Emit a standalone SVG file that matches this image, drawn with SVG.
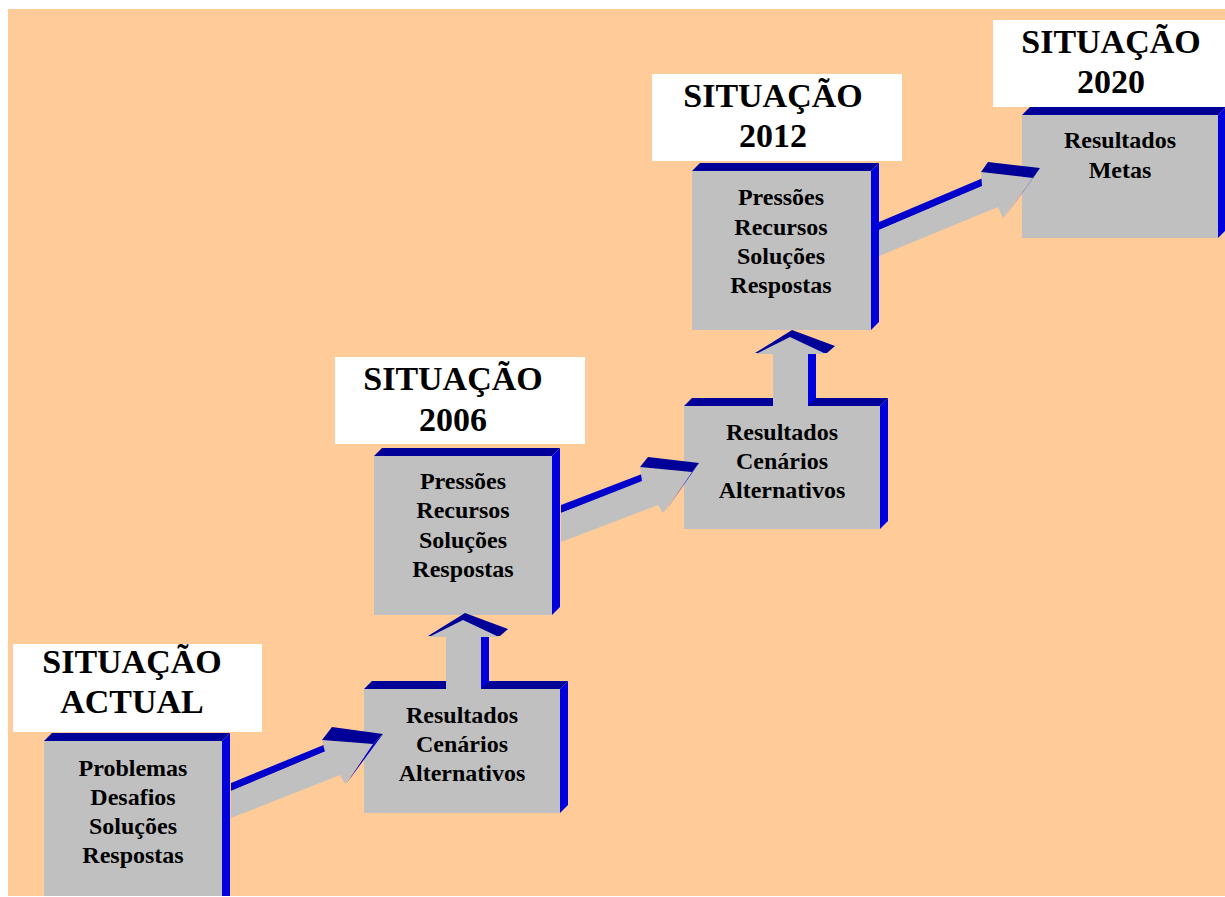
<svg xmlns="http://www.w3.org/2000/svg" width="1225" height="897" viewBox="0 0 1225 897">
<style>
.front{fill:#C0C0C0}
.top{fill:#000099}
.side{fill:#0000DD}
.lbl{fill:#FFFFFF}
.t{font-family:"Liberation Serif","Times New Roman",serif;font-weight:bold;fill:#000;text-anchor:middle}
.title{font-size:34px}
.body{font-size:24px}
.ag{fill:#C0C0C0}
.ab{fill:#0000CC}
.ah{fill:#000099}
</style>
<rect x="0" y="0" width="1225" height="897" fill="#FFFFFF"/>
<rect x="8" y="9" width="1217" height="887" fill="#FFCC99"/>

<g id="label-actual">
<rect class="lbl" x="13" y="644" width="249" height="88"/>
<text class="t title" x="132" y="673">SITUAÇÃO</text>
<text class="t title" x="132" y="713">ACTUAL</text>
</g>
<g id="label-2006">
<rect class="lbl" x="335" y="357" width="250" height="87"/>
<text class="t title" x="453" y="390">SITUAÇÃO</text>
<text class="t title" x="453" y="431">2006</text>
</g>
<g id="label-2012">
<rect class="lbl" x="652" y="74" width="250" height="87"/>
<text class="t title" x="773" y="107">SITUAÇÃO</text>
<text class="t title" x="773" y="147">2012</text>
</g>
<g id="label-2020">
<rect class="lbl" x="993" y="20" width="232" height="87"/>
<text class="t title" x="1111" y="53">SITUAÇÃO</text>
<text class="t title" x="1111" y="93">2020</text>
</g>

<g id="box-actual">
<rect class="front" x="44" y="741" width="178" height="155"/>
<polygon class="top" points="44,741 52,733 230,733 222,741"/>
<polygon class="side" points="222,741 230,733 230,896 222,896"/>
<text class="t body" x="133" y="776">Problemas</text>
<text class="t body" x="133" y="805">Desafios</text>
<text class="t body" x="133" y="834">Soluções</text>
<text class="t body" x="133" y="863">Respostas</text>
</g>
<g id="box-resultados-1">
<rect class="front" x="364" y="689" width="196" height="124"/>
<polygon class="top" points="364,689 372,681 568,681 560,689"/>
<polygon class="side" points="560,689 568,681 568,805 560,813"/>
<text class="t body" x="462" y="723">Resultados</text>
<text class="t body" x="462" y="752">Cenários</text>
<text class="t body" x="462" y="781">Alternativos</text>
</g>
<g id="box-2006">
<rect class="front" x="374" y="456" width="178" height="159"/>
<polygon class="top" points="374,456 382,448 560,448 552,456"/>
<polygon class="side" points="552,456 560,448 560,607 552,615"/>
<text class="t body" x="463" y="489">Pressões</text>
<text class="t body" x="463" y="518">Recursos</text>
<text class="t body" x="463" y="548">Soluções</text>
<text class="t body" x="463" y="577">Respostas</text>
</g>
<g id="box-resultados-2">
<rect class="front" x="684" y="406" width="196" height="123"/>
<polygon class="top" points="684,406 692,398 888,398 880,406"/>
<polygon class="side" points="880,406 888,398 888,521 880,529"/>
<text class="t body" x="782" y="440">Resultados</text>
<text class="t body" x="782" y="469">Cenários</text>
<text class="t body" x="782" y="498">Alternativos</text>
</g>
<g id="box-2012">
<rect class="front" x="692" y="171" width="179" height="159"/>
<polygon class="top" points="692,171 700,163 879,163 871,171"/>
<polygon class="side" points="871,171 879,163 879,322 871,330"/>
<text class="t body" x="781" y="205">Pressões</text>
<text class="t body" x="781" y="235">Recursos</text>
<text class="t body" x="781" y="264">Soluções</text>
<text class="t body" x="781" y="293">Respostas</text>
</g>
<g id="box-2020">
<rect class="front" x="1022" y="115" width="196" height="123"/>
<polygon class="top" points="1022,115 1030,107 1226,107 1218,115"/>
<polygon class="side" points="1218,115 1226,107 1226,230 1218,238"/>
<text class="t body" x="1120" y="148">Resultados</text>
<text class="t body" x="1120" y="178">Metas</text>
</g>

<g id="connectors">
<g id="arrow-1">
<polygon class="ab" points="231,783 326,744 326,751 231,791"/>
<polygon class="ag" points="231,791 325,752 322,740 373,744 345,784 340,775 231,818"/>
<polygon class="ah" points="322,740 332,727 383,734 373,744"/>
<polygon class="ab" points="373,744 383,734 346,784"/>
</g>
<g id="arrow-2">
<polygon class="ag" points="446,636 481,636 481,689 446,689"/>
<polygon class="side" points="481,637 489,637 489,681 481,689"/>
<polygon class="ah" points="428,636 465,613 508,629 500,636"/>
<polygon class="ag" points="429,637 463,620 499,637"/>
</g>
<g id="arrow-3">
<polygon class="ab" points="561,505 642,474 642,482 561,513"/>
<polygon class="ag" points="561,513 642,481 640,467 692,472 663,513 658,505 561,542"/>
<polygon class="ah" points="640,467 648,457 699,463 692,472"/>
<polygon class="ab" points="692,472 699,463 664,513"/>
</g>
<g id="arrow-4" transform="translate(327,-283)">
<polygon class="ag" points="446,636 481,636 481,689 446,689"/>
<polygon class="side" points="481,637 489,637 489,681 481,689"/>
<polygon class="ah" points="428,636 465,613 508,629 500,636"/>
<polygon class="ag" points="429,637 463,620 499,637"/>
</g>
<g id="arrow-5">
<polygon class="ab" points="879,222 983,178 983,186 879,230"/>
<polygon class="ag" points="879,230 982,186 981,172 1033,178 1003,218 998,207 879,256"/>
<polygon class="ah" points="981,172 988,162 1040,168 1033,178"/>
<polygon class="ab" points="1033,178 1040,168 1004,218"/>
</g>
</g>
</svg>
